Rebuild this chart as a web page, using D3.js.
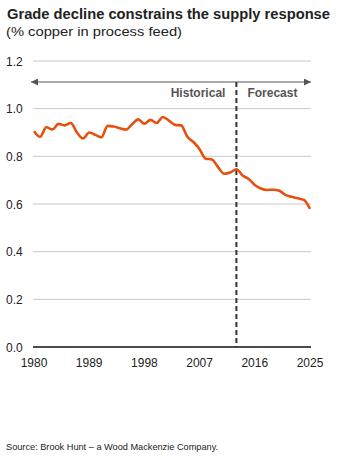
<!DOCTYPE html>
<html><head><meta charset="utf-8">
<script src="https://cdn.jsdelivr.net/npm/d3@7"></script>
<style>body{margin:0;background:#fff;}svg{display:block;font-family:"Liberation Sans",Arial,sans-serif;}</style>
</head><body><svg id="c" width="345" height="459"></svg>
<script>
const years = d3.range(1980, 2026);
const grade = [0.905,0.882,0.922,0.913,0.936,0.930,0.940,0.900,0.875,0.900,
  0.890,0.880,0.928,0.925,0.918,0.912,0.935,0.955,0.937,0.953,
  0.940,0.965,0.950,0.932,0.930,0.882,0.860,0.830,0.790,0.787,
  0.755,0.727,0.732,0.746,0.720,0.705,0.680,0.665,0.659,0.660,
  0.656,0.638,0.630,0.624,0.617,0.580];
const yTicks = [0.0,0.2,0.4,0.6,0.8,1.0,1.2];
const xTicks = [1980,1989,1998,2007,2016,2025];
const forecastStart = 2013;
const title = "Grade decline constrains the supply response";
const subtitle = "(% copper in process feed)";
const source = "Source:  Brook Hunt \u2013 a Wood Mackenzie Company.";

const svg = d3.select("#c");
const x = d3.scaleLinear().domain([1980,2025]).range([34,310]);
const y = d3.scaleLinear().domain([0,1.2]).range([347,61]);
const x0 = 33, x1 = 311;

svg.append("text").attr("x",7).attr("y",19).attr("font-size",14).attr("font-weight","bold").attr("fill","#222")
  .attr("textLength",323).attr("lengthAdjust","spacingAndGlyphs").text(title);
svg.append("text").attr("x",6).attr("y",36).attr("font-size",13).attr("fill","#222")
  .attr("textLength",176).attr("lengthAdjust","spacingAndGlyphs").text(subtitle);

// grid
svg.append("g").selectAll("line").data(yTicks.filter(d=>d>0)).join("line")
  .attr("x1",x0).attr("x2",x1).attr("y1",d=>y(d)).attr("y2",d=>y(d))
  .attr("stroke","#c8c8c8").attr("stroke-width",1);
svg.append("g").selectAll("text").data(yTicks).join("text")
  .attr("x",6).attr("y",d=>y(d)+4.5).attr("font-size",12).attr("fill","#222")
  .text(d=>d3.format(".1f")(d));
// axis
svg.append("line").attr("x1",x0).attr("x2",x1).attr("y1",y(0)).attr("y2",y(0)).attr("stroke","#111").attr("stroke-width",1.3);
svg.append("g").selectAll("text").data(xTicks).join("text")
  .attr("x",d=>x(d)).attr("y",367).attr("text-anchor","middle").attr("font-size",12).attr("fill","#222")
  .text(d=>d);

// arrow
const ay = 82;
const defs = svg.append("defs");
defs.append("marker").attr("id","ah").attr("viewBox","0 0 10 10").attr("refX",10).attr("refY",5)
  .attr("markerWidth",7).attr("markerHeight",7).attr("markerUnits","userSpaceOnUse").attr("orient","auto-start-reverse")
  .append("path").attr("d","M0,0L10,5L0,10Z").attr("fill","#555");
svg.append("line").attr("x1",31).attr("x2",311).attr("y1",ay).attr("y2",ay)
  .attr("stroke","#555").attr("stroke-width",1.2)
  .attr("marker-start","url(#ah)").attr("marker-end","url(#ah)");

// dashed line
svg.append("line").attr("x1",x(forecastStart)).attr("x2",x(forecastStart)).attr("y1",ay).attr("y2",y(0))
  .attr("stroke","#333").attr("stroke-width",2).attr("stroke-dasharray","5,3");
svg.append("text").attr("x",x(forecastStart)-11).attr("y",97).attr("text-anchor","end").attr("font-size",12).attr("font-weight","bold").attr("fill","#555").text("Historical");
svg.append("text").attr("x",x(forecastStart)+11).attr("y",97).attr("font-size",12).attr("font-weight","bold").attr("fill","#555").text("Forecast");

// line
const line = d3.line().x((d,i)=>x(years[i])).y(d=>y(d)).curve(d3.curveMonotoneX);
svg.append("path").datum(grade).attr("d",line).attr("fill","none").attr("stroke","#E5500F").attr("stroke-width",2.6).attr("stroke-linejoin","round");

svg.append("text").attr("x",6).attr("y",450).attr("font-size",9.2).attr("fill","#222").text(source);
</script></body></html>
